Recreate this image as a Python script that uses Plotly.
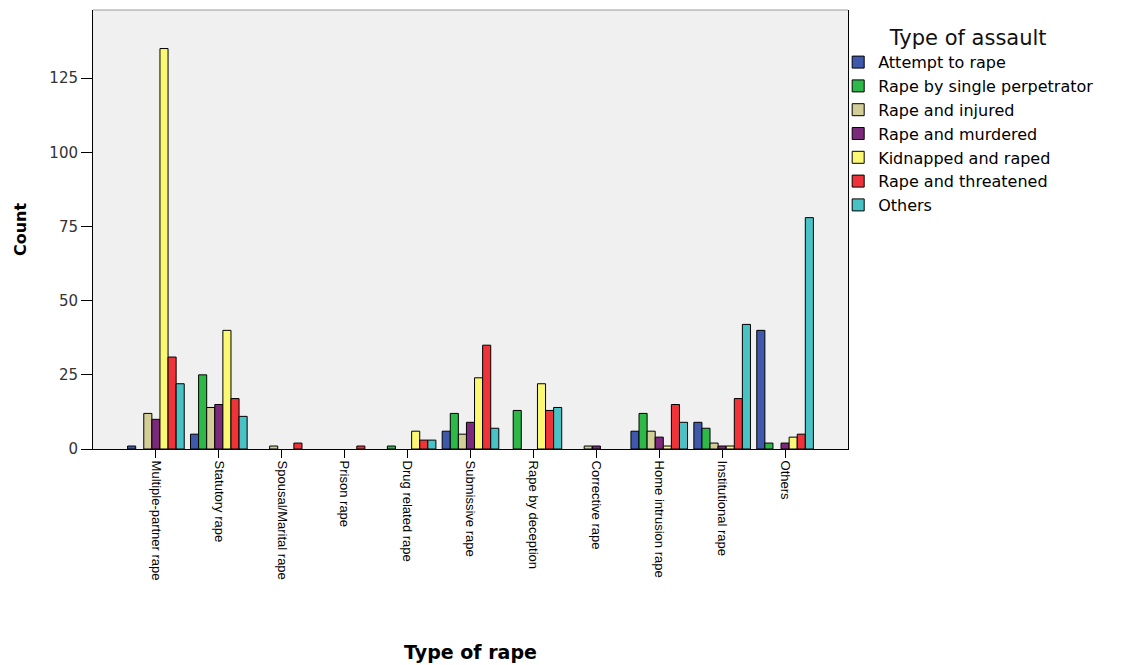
import plotly.graph_objects as go

categories = ["Multiple-partner rape", "Statutory rape", "Spousal/Marital rape", "Prison rape",
              "Drug related rape", "Submissive rape", "Rape by deception", "Corrective rape",
              "Home intrusion rape", "Institutional rape", "Others"]

series_names = ["Attempt to rape", "Rape by single perpetrator", "Rape and injured",
                "Rape and murdered", "Kidnapped and raped", "Rape and threatened", "Others"]

attempt_to_rape = [1, 5, 0, 0, 0, 6, 0, 0, 6, 9, 40]
single_perpetrator = [0, 25, 0, 0, 1, 12, 13, 0, 12, 7, 2]
injured = [12, 14, 1, 0, 0, 5, 0, 1, 6, 2, 0]
murdered = [10, 15, 0, 0, 0, 9, 0, 1, 4, 1, 2]
kidnapped = [135, 40, 0, 0, 6, 24, 22, 0, 1, 1, 4]
threatened = [31, 17, 2, 1, 3, 35, 13, 0, 15, 17, 5]
others = [22, 11, 0, 0, 3, 7, 14, 0, 9, 42, 78]

series_values = [attempt_to_rape, single_perpetrator, injured, murdered, kidnapped, threatened, others]
colors = ["#3E58AC", "#2EB848", "#D3CE97", "#7C287D", "#FBF873", "#EF3338", "#48C2C5"]

y_ticks = [0, 25, 50, 75, 100, 125]

fig = go.Figure()
for name, vals, col in zip(series_names, series_values, colors):
    # empty cells (count 0) are not drawn in the original chart
    shown = [v if v != 0 else None for v in vals]
    fig.add_trace(go.Bar(
        x=categories, y=shown, name=name,
        marker=dict(color=col, line=dict(color="#000000", width=1)),
    ))

font_family = "Liberation Sans, Arial, sans-serif"
wide_font = "DejaVu Sans, sans-serif"

fig.update_layout(
    width=1121, height=665,
    barmode="group", bargap=0.1, bargroupgap=0,
    paper_bgcolor="#FFFFFF", plot_bgcolor="#F0F0F0",
    margin=dict(l=85, r=281, t=2, b=224, pad=0),
    font=dict(family=font_family, size=13, color="#000000"),
    showlegend=True,
    legend=dict(
        x=0.987, xanchor="left", y=0.982, yanchor="top", xref="paper", yref="paper",
        bgcolor="rgba(0,0,0,0)", borderwidth=0,
        font=dict(family=wide_font, size=16, color="#000000"),
        title=dict(text="Type of assault", side="top center",
                   font=dict(family=wide_font, size=21, color="#111111")),
        tracegroupgap=0, itemwidth=30, traceorder="normal",
    ),
    xaxis=dict(
        type="category", range=[-1, 11],
        tickangle=90, ticks="outside", ticklen=8, tickwidth=1, tickcolor="#000000",
        showline=True, linecolor="#000000", linewidth=1,
        showgrid=False, zeroline=False,
        tickfont=dict(family=font_family, size=13, color="#000000"),
        title=dict(text="<b>Type of rape</b>", standoff=66,
                   font=dict(family=wide_font, size=19, color="#000000")),
        automargin=False,
    ),
    yaxis=dict(
        range=[0, 148], tickvals=y_ticks, ticks="outside", ticklen=11, tickwidth=1,
        tickcolor="#000000", showline=True, linecolor="#000000", linewidth=1, mirror=True,
        showgrid=False, zeroline=False,
        tickfont=dict(family=wide_font, size=15, color="#333333"),
        title=dict(text="<b>Count</b>", standoff=18,
                   font=dict(family=wide_font, size=16, color="#000000")),
        automargin=False,
    ),
    shapes=[dict(type="line", xref="paper", yref="paper", x0=0, x1=1, y0=1, y1=1,
                 line=dict(color="#999999", width=1))],
)

fig.write_html("out.html")
